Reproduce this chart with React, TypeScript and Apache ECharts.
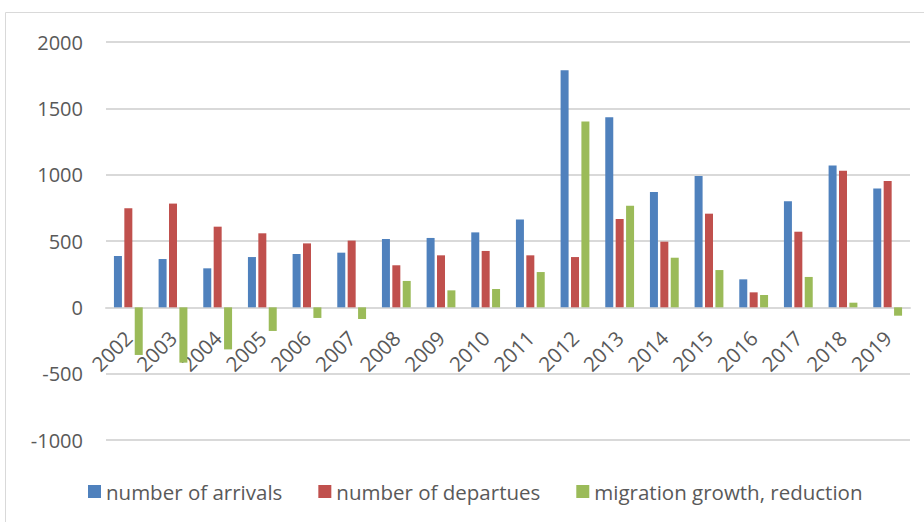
import React, { useEffect, useRef } from "react";
import * as echarts from "echarts";

const years = ["2002","2003","2004","2005","2006","2007","2008","2009","2010","2011","2012","2013","2014","2015","2016","2017","2018","2019"];
const arrivals = [387, 364, 294, 379, 402, 412, 515, 523, 565, 663, 1787, 1432, 869, 990, 211, 799, 1070, 895];
const departures = [746, 782, 608, 558, 482, 503, 317, 392, 425, 392, 379, 666, 495, 706, 113, 570, 1030, 952];
const growth = [-359, -417, -317, -178, -80, -88, 199, 128, 138, 266, 1400, 766, 374, 281, 93, 229, 35, -63];
const seriesNames = ["number of arrivals", "number of departues", "migration growth, reduction"];
const colors = ["#4F81BD", "#C0504D", "#9BBB59"];
const yMin = -1000;
const yMax = 2000;

const FONT = "'Open Sans', 'Noto Sans', sans-serif";

export default function App() {
  const ref = useRef<HTMLDivElement>(null);
  useEffect(() => {
    if (!ref.current) return;
    const chart = echarts.init(ref.current, undefined, { renderer: "svg" });
    const data = [arrivals, departures, growth];
    const gridTop = 42;
    const gridBottom = 82;
    const gridH = 522 - gridTop - gridBottom;
    const zeroOffset = (gridH * (0 - yMin)) / (yMax - yMin);
    chart.setOption({
      animation: false,
      color: colors,
      graphic: [
        {
          type: "rect",
          shape: { x: 5.5, y: 12.5, width: 940, height: 540 },
          style: { fill: "none", stroke: "#D9D9D9", lineWidth: 1 },
          silent: true,
        },
      ],
      grid: { left: 106, right: 14, top: gridTop, bottom: gridBottom, containLabel: false },
      legend: {
        bottom: 20,
        left: 88,
        padding: 0,
        itemWidth: 13,
        itemHeight: 13,
        itemGap: 36,
        icon: "rect",
        textStyle: { fontFamily: FONT, fontSize: 20.5, color: "#595959" },
        data: seriesNames,
      },
      xAxis: {
        type: "category",
        data: years,
        position: "bottom",
        offset: -zeroOffset,
        axisLine: { onZero: false, lineStyle: { color: "#D9D9D9", width: 2 } },
        axisTick: { show: false },
        axisLabel: {
          rotate: 45,
          margin: 27,
          interval: 0,
          fontFamily: FONT,
          fontSize: 20.5,
          color: "#595959",
        },
      },
      yAxis: {
        type: "value",
        min: yMin,
        max: yMax,
        interval: 500,
        axisLine: { show: false },
        axisTick: { show: false },
        splitLine: { lineStyle: { color: "#D9D9D9", width: 2 } },
        axisLabel: {
          margin: 23,
          fontFamily: FONT,
          fontSize: 20,
          color: "#595959",
          formatter: (v: number) => String(v),
        },
      },
      series: seriesNames.map((name, i) => ({
        name,
        type: "bar",
        data: data[i],
        barWidth: 8,
        barGap: "30%",
        itemStyle: { color: colors[i] },
      })),
    });
    return () => chart.dispose();
  }, []);
  return (
    <div
      ref={ref}
      style={{ position: "fixed", left: 0, top: 0, width: 924, height: 522, background: "#fff" }}
    />
  );
}
